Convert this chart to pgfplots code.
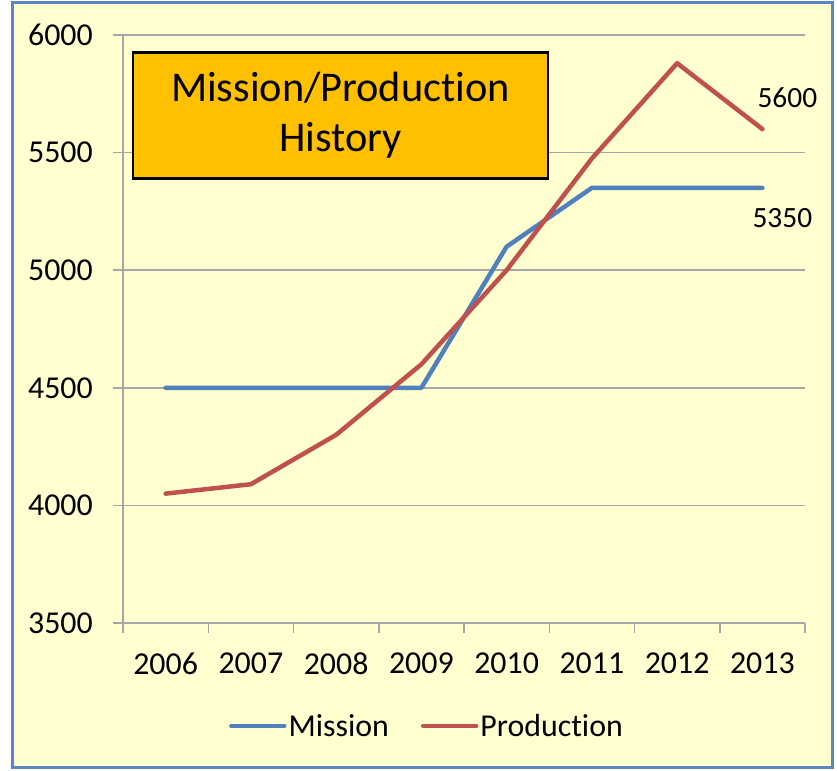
\documentclass[border=0pt]{standalone}
\usepackage{fontspec}
\setmainfont{Carlito}[Ligatures=NoCommon]
\usepackage{pgfplots}
\pgfplotsset{compat=1.18}
\definecolor{bg}{HTML}{FFFFD0}
\definecolor{frame}{HTML}{5B86C5}
\definecolor{mblue}{HTML}{4F81BD}
\definecolor{pred}{HTML}{C0504D}
\definecolor{gridc}{HTML}{A6A6A6}
\definecolor{gold}{HTML}{FFC000}
\begin{document}
\begin{tikzpicture}[x=1bp,y=1bp]
\path[use as bounding box] (0,0) rectangle (837,771);
\fill[white] (0,0) rectangle (837,771);
\filldraw[fill=bg, draw=frame, line width=3bp] (12,3) rectangle (832,768);
\begin{axis}[
  at={(123bp,148bp)}, anchor=south west,
  scale only axis, width=682bp, height=588bp,
  xmin=-0.5, xmax=7.5, ymin=3500, ymax=6000,
  ytick={3500,4000,4500,5000,5500,6000},
  xtick={-0.5,0.5,1.5,2.5,3.5,4.5,5.5,6.5,7.5},
  xticklabels={2006,2007,2008,2009,2010,2011,2012,2013},
  x tick label as interval,
  axis x line*=bottom, axis y line*=left,
  axis line style={draw=gridc, line width=1.5bp, -},
  tick style={draw=gridc, line width=1.5bp},
  tick align=outside, major tick length=10bp,
  ymajorgrids, grid style={draw=gridc, line width=1.5bp},
  /pgf/number format/assume math mode=true,
  /pgf/number format/set thousands separator={},
  tick label style={font=\fontsize{32}{38}\selectfont, text=black},
  yticklabel style={anchor=east, inner sep=0pt, xshift=-20bp},
  xticklabel style={anchor=north, inner sep=0pt, yshift=-20bp},
  legend style={at={(0.4457,-0.175)}, anchor=center, draw=none, fill=none,
    legend columns=2, font=\fontsize{32}{38}\selectfont,
    /tikz/every even column/.append style={column sep=30bp}},
  legend image code/.code={\draw[#1, line width=4.5bp, line cap=round] (0bp,0bp) -- (53bp,0bp);},
  clip=false,
]
\addplot[mblue, line width=4.5bp, line cap=round, line join=round] coordinates {
  (0,4500) (1,4500) (2,4500) (3,4500) (4,5100) (5,5350) (6,5350) (7,5350)};
\addlegendentry{Mission}
\addplot[pred, line width=4.5bp, line cap=round, line join=round] coordinates {
  (0,4050) (1,4090) (2,4300) (3,4600) (4,5000) (5,5475) (6,5880) (7,5600)};
\addlegendentry{Production}
\node[font=\fontsize{29.5}{35}\selectfont] at (axis cs:7,5600) [xshift=25bp, yshift=31bp] {5600};
\node[font=\fontsize{29.5}{35}\selectfont] at (axis cs:7,5350) [xshift=20bp, yshift=-30bp] {5350};
\end{axis}
\node[draw=black, line width=2.5bp, fill=gold, minimum width=415bp, minimum height=126bp,
  align=center, inner sep=0pt, font=\fontsize{42.5}{50}\selectfont] at (340.5,655.5)
  {Mission/Production\\History};
\end{tikzpicture}
\end{document}
